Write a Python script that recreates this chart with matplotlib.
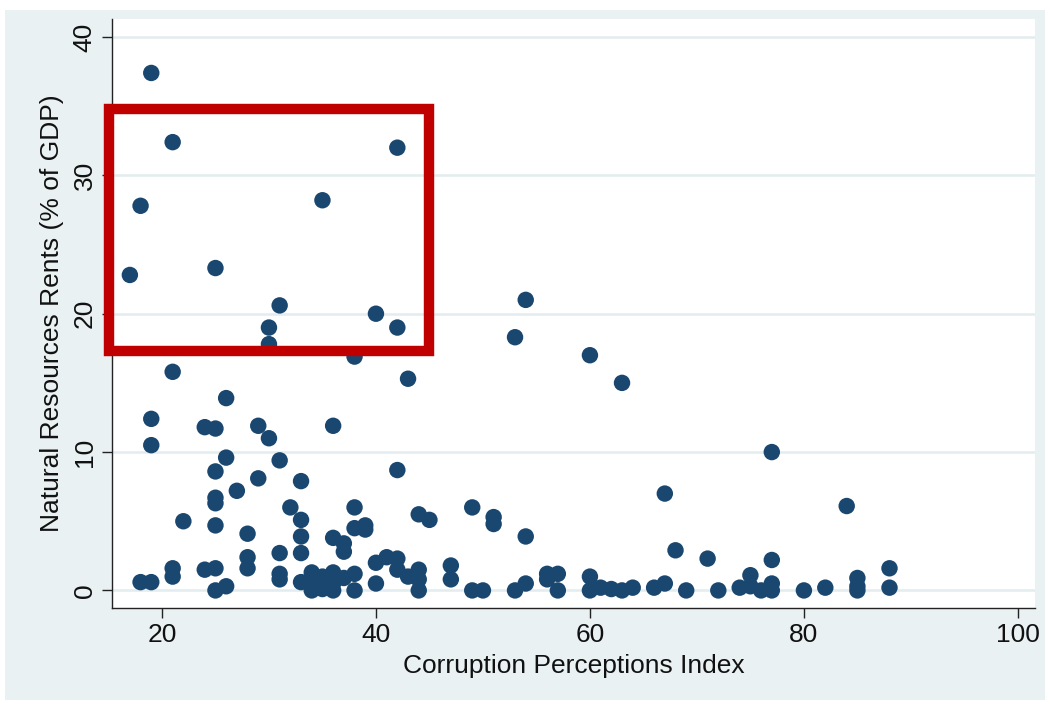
import matplotlib
matplotlib.use("Agg")
import matplotlib.pyplot as plt
from matplotlib.patches import Rectangle

# ---- data ----
cpi = [19, 21, 18, 17, 25, 35, 42, 31, 30, 30, 40, 42, 38, 54, 53, 60, 63, 43,
       21, 26, 19, 19, 24, 25, 29, 30, 36, 26, 25, 31, 29, 33, 27, 25, 25, 22,
       25, 32, 33, 33, 33, 28, 28, 28, 31, 31, 31, 21, 21, 24, 25, 18, 19, 25,
       26, 36, 37, 37, 38, 38, 39, 39, 42, 44, 45, 49, 51, 51, 54, 47, 47, 49,
       50, 53, 54, 56, 56, 57, 57, 38, 38, 40, 40, 41, 42, 42, 43, 44, 44, 44,
       33, 34, 34, 35, 35, 36, 36, 37, 34, 36,
       60, 60, 61, 62, 63, 64, 66, 67, 67, 68, 69, 71, 72, 74, 75, 75, 76, 77,
       77, 77, 77, 80, 82, 84, 85, 85, 85, 88, 88]
rents = [37.4, 32.4, 27.8, 22.8, 23.3, 28.2, 32.0, 20.6, 19.0, 17.8, 20.0, 19.0,
         16.9, 21.0, 18.3, 17.0, 15.0, 15.3,
         15.8, 13.9, 12.4, 10.5, 11.8, 11.7, 11.9, 11.0, 11.9, 9.6, 8.6, 9.4,
         8.1, 7.9, 7.2, 6.7, 6.3, 5.0,
         4.7, 6.0, 5.1, 3.9, 2.7, 4.1, 2.4, 1.6, 2.7, 1.2, 0.8, 1.6, 1.0, 1.5,
         1.6, 0.6, 0.6, 0.0,
         0.3, 3.8, 3.4, 2.8, 6.0, 4.5, 4.7, 4.4, 8.7, 5.5, 5.1, 6.0, 5.3, 4.8,
         3.9, 1.8, 0.8, 0.0,
         0.0, 0.0, 0.5, 1.2, 0.8, 1.2, 0.0, 1.2, 0.0, 2.0, 0.5, 2.4, 2.3, 1.5,
         1.0, 1.5, 0.8, 0.0,
         0.6, 1.3, 0.4, 1.0, 0.1, 1.3, 0.5, 0.9, 0.0, 0.0,
         1.0, 0.0, 0.2, 0.1, 0.0, 0.2, 0.2, 0.5, 7.0, 2.9, 0.0, 2.3, 0.0, 0.2,
         1.1, 0.3, 0.0, 0.5, 0.0, 2.2, 10.0, 0.0, 0.2, 6.1, 0.9, 0.3, 0.0, 1.6, 0.2]

x_ticks = [20, 40, 60, 80, 100]
y_ticks = [0, 10, 20, 30, 40]
x_label = "Corruption Perceptions Index"
y_label = "Natural Resources Rents (% of GDP)"

# highlight box (annotation, in data units)
box_x = (15.05, 44.95)
box_y = (17.3, 34.8)

# ---- style ----
BG = "#E9F1F3"
NAVY = "#1A476F"
FONT = ["Liberation Sans", "DejaVu Sans"]
plt.rcParams["font.family"] = FONT

W, H = 1051, 705
fig = plt.figure(figsize=(W / 100, H / 100), dpi=100, facecolor="white")
fig.patches.append(Rectangle((5 / W, 5 / H), 1040 / W, 690 / H,
                             transform=fig.transFigure, facecolor=BG,
                             edgecolor="none", zorder=-10))

ax = fig.add_axes([112 / W, 1 - 608 / H, (1035 - 112) / W, (608 - 19) / H])
ax.set_facecolor("white")
ax.set_xlim(15.33, 101.6)
ax.set_ylim(-1.27, 41.3)

for s in ["top", "right"]:
    ax.spines[s].set_visible(False)
for s in ["left", "bottom"]:
    ax.spines[s].set_color("#222222")
    ax.spines[s].set_linewidth(1.0)

ax.set_xticks(x_ticks)
ax.set_yticks(y_ticks)
ax.tick_params(axis="both", direction="out", length=7, width=1.0,
               color="#222222", labelsize=19, labelcolor="#111111")
ax.tick_params(axis="x", pad=4)
ax.tick_params(axis="y", pad=4)
for lab in ax.get_yticklabels():
    lab.set_rotation(90)
    lab.set_va("center")

ax.yaxis.grid(True, color="#E3ECEE", linewidth=1.8)
ax.set_axisbelow(True)

ax.scatter(cpi, rents, s=140, color=NAVY, edgecolors="none", zorder=3)

ax.set_xlabel(x_label, fontsize=19, color="#111111", labelpad=5)
ax.set_ylabel(y_label, fontsize=19, color="#111111", labelpad=6)

rect = Rectangle((box_x[0], box_y[0]), box_x[1] - box_x[0], box_y[1] - box_y[0],
                 fill=False, edgecolor="#C00000", linewidth=7.5,
                 clip_on=False, zorder=5)
ax.add_patch(rect)

fig.savefig("out.png", dpi=100, facecolor="white")
